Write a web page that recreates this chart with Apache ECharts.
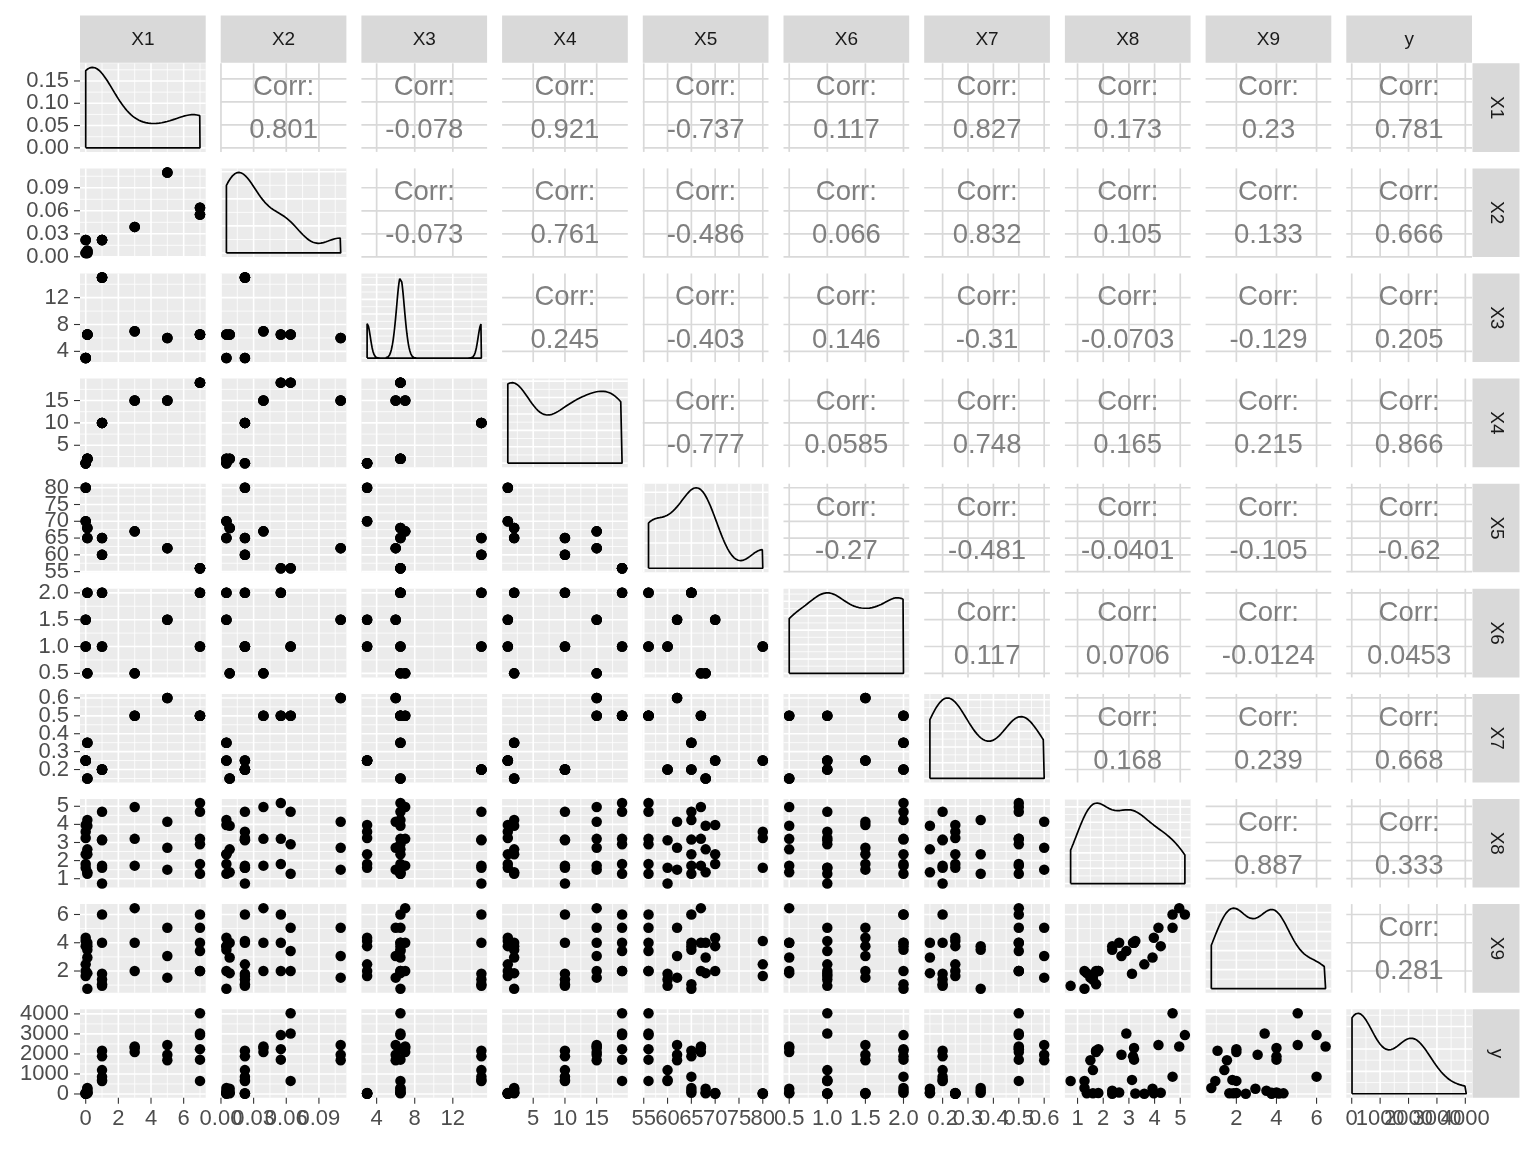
<!DOCTYPE html>
<html><head><meta charset="utf-8">
<script src="https://cdn.jsdelivr.net/npm/echarts@6/dist/echarts.min.js"></script>
<style>html,body{margin:0;padding:0;background:#fff}#c{width:1536px;height:1152px}</style>
</head><body><div id="c"></div>
<script>
// ---------------- data (30 observations) ----------------
const VARS = ['X1','X2','X3','X4','X5','X6','X7','X8','X9','y'];
const X1 = [0,0,0, 0,0,0, 0.1,0.1,0.1, 0.1,0.1,0.1, 1,1,1, 1,1,1, 3,3,3, 5,5,5, 7,7,7, 7,7,7];
const X2 = [0.022,0.022,0.022, 0.005,0.005,0.005, 0.008,0.008,0.008, 0.005,0.005,0.005, 0.022,0.022,0.022, 0.022,0.022,0.022, 0.039,0.039,0.039, 0.11,0.11,0.11, 0.055,0.055,0.055, 0.064,0.064,0.064];
const X3 = [3,3,3, 3,3,3, 6.5,6.5,6.5, 6.5,6.5,6.5, 15,15,15, 15,15,15, 7,7,7, 6,6,6, 6.5,6.5,6.5, 6.5,6.5,6.5];
const X4 = [1,1,1, 1,1,1, 2,2,2, 2,2,2, 10,10,10, 10,10,10, 15,15,15, 15,15,15, 19,19,19, 19,19,19];
const X5 = [80,80,80, 70,70,70, 68,68,68, 65,65,65, 65,65,65, 60,60,60, 67,67,67, 62,62,62, 56,56,56, 56,56,56];
const X6 = [1,1,1, 1.5,1.5,1.5, 0.5,0.5,0.5, 2,2,2, 2,2,2, 1,1,1, 0.5,0.5,0.5, 1.5,1.5,1.5, 2,2,2, 1,1,1];
const X7 = [0.25,0.25,0.25, 0.25,0.25,0.25, 0.15,0.15,0.15, 0.35,0.35,0.35, 0.2,0.2,0.2, 0.2,0.2,0.2, 0.5,0.5,0.5, 0.6,0.6,0.6, 0.5,0.5,0.5, 0.5,0.5,0.5];
const X8 = [3.25,3.6,1.6, 3.97,2.35,1.81, 3.92,2.62,1.36, 4.24,2.35,1.27, 4.7,3.16,1.72, 3.12,1.6,0.73, 4.96,3.2,1.72, 4.15,2.71,1.5, 5.18,3.2,1.81, 4.7,2.9,1.27];
const X9 = [4.12,2.47,1.65, 4.35,3.76,2.0, 2.95,4.0,1.85, 3.76,3.5,0.75, 6.0,4.0,1.06, 1.8,1.4,0.95, 6.45,4.0,2.0, 5.06,3.06,1.53, 6.0,4.0,2.0, 5.06,3.41,2.0];
const y  = [20,10,40, 30,15,49, 260,74,30, 60,163,300, 866,1879,2157, 703,1193,650, 2369,2300,2091, 2451,1961,1683, 2941,1716,2239, 4034,3023,654];

// axis break steps and label decimals per variable
const breakStep   = [2, 0.03, 4, 5, 5, 0.5, 0.1, 1, 2, 1000];
const labelDigits = [0, 2, 0, 0, 0, 1, 1, 0, 0, 0];

// correlation labels (upper triangle), row i lists columns i+1..9
const corrText = [
  ['0.801','-0.078','0.921','-0.737','0.117','0.827','0.173','0.23','0.781'],
  ['-0.073','0.761','-0.486','0.066','0.832','0.105','0.133','0.666'],
  ['0.245','-0.403','0.146','-0.31','-0.0703','-0.129','0.205'],
  ['-0.777','0.0585','0.748','0.165','0.215','0.866'],
  ['-0.27','-0.481','-0.0401','-0.105','-0.62'],
  ['0.117','0.0706','-0.0124','0.0453'],
  ['0.168','0.239','0.668'],
  ['0.887','0.333'],
  ['0.281']
];

// ---------------- layout ----------------
const L = 80, T = 63.3, PW = 125.7, PH = 88.6, DX = 140.7, DY = 105.1;
const FONT = '"Liberation Sans", Arial, sans-serif';
const cols = [X1,X2,X3,X4,X5,X6,X7,X8,X9,y];
const N = 10;

function lim(a){const mn=Math.min(...a),mx=Math.max(...a),r=mx-mn;return [mn-0.05*r,mx+0.05*r];}
function majors(lo,hi,step){const o=[];for(let k=Math.ceil(lo/step-1e-9);k*step<=hi+1e-9;k++)o.push(+(k*step).toFixed(10));return o;}
function minors(lo,hi,step){const o=[];for(let k=Math.floor(lo/step)-1;(k+0.5)*step<=hi;k++){const v=(k+0.5)*step;if(v>=lo&&v<=hi)o.push(+v.toFixed(10));}return o;}
function niceStep(r){const raw=r/4,mag=Math.pow(10,Math.floor(Math.log10(raw))),n=raw/mag;let s=n<1.5?1:n<2.25?2:n<3.5?2.5:n<7.5?5:10;return s*mag;}

// gaussian KDE (bw.nrd0, 512 points over data range) — same stat as the original
function quant(s,p){const h=(s.length-1)*p,lo=Math.floor(h),hi=Math.min(lo+1,s.length-1);return s[lo]+(h-lo)*(s[hi]-s[lo]);}
function kde(a){
  const n=a.length,s=[...a].sort((p,q)=>p-q),mean=a.reduce((p,q)=>p+q,0)/n;
  const sd=Math.sqrt(a.reduce((p,q)=>p+(q-mean)*(q-mean),0)/(n-1));
  let lo=Math.min(sd,(quant(s,0.75)-quant(s,0.25))/1.34); if(!(lo>0)) lo=sd||1;
  const bw=0.9*lo*Math.pow(n,-0.2), mn=s[0], mx=s[n-1], pts=[];
  for(let k=0;k<512;k++){const x=mn+(mx-mn)*k/511;let d=0;for(const v of a){const z=(x-v)/bw;d+=Math.exp(-0.5*z*z);}pts.push([x,d/(n*bw*Math.sqrt(2*Math.PI))]);}
  return pts;
}

const xl = cols.map(lim);
const dens = cols.map(kde);
const dl = dens.map(p=>{const m=Math.max(...p.map(q=>q[1]));return [-0.05*m,1.05*m];});
const dStep = dl.map(l=>niceStep(l[1]));

const grids=[], xAxes=[], yAxes=[], series=[], graphics=[];

function axisCfg(k,lo,hi){
  return {type:'value', gridIndex:k, min:lo, max:hi, scale:true, show:true,
    axisLine:{show:false}, axisTick:{show:false}, axisLabel:{show:false},
    splitLine:{show:false}, minorSplitLine:{show:false}};
}

const TICK = 6, GAP = 5, AXFONT = 22;

for(let i=0;i<N;i++){
  for(let j=0;j<N;j++){
    const k=i*N+j, upper=j>i, diag=i===j;
    grids.push({left:L+j*DX, top:T+i*DY, width:PW, height:PH, show:true,
      backgroundColor: upper?'#ffffff':'#ebebeb', borderWidth:0, containLabel:false});
    const xlo=xl[j][0], xhi=xl[j][1];
    const [ylo,yhi] = diag? dl[i] : xl[i];
    const yStep = diag? dStep[i] : breakStep[i];
    const yDig = diag? Math.max(0,-Math.floor(Math.log10(dStep[i])+1e-9)) : labelDigits[i];
    const xDig = labelDigits[j];
    xAxes.push(axisCfg(k,xlo,xhi));
    yAxes.push(axisCfg(k,ylo,yhi));

    const xMaj=majors(xlo,xhi,breakStep[j]), yMaj=majors(ylo,yhi,yStep);
    const xMin=minors(xlo,xhi,breakStep[j]), yMin=minors(ylo,yhi,yStep);
    const label = upper ? 'Corr:\n'+corrText[i][j-i-1] : null;
    const bottomAxis = i===N-1, leftAxis = j===0;
    series.push({type:'custom', xAxisIndex:k, yAxisIndex:k, silent:true, z:1, clip:false,
      data:[[xlo,ylo]],
      renderItem:(params,api)=>{
        const ch=[];
        const p0=api.coord([xlo,ylo]), p1=api.coord([xhi,yhi]);
        const line=(a,b,c,d,col,w)=>ch.push({type:'line',shape:{x1:a,y1:b,x2:c,y2:d},style:{stroke:col,lineWidth:w}});
        if(!upper){
          xMin.forEach(v=>{const p=api.coord([v,ylo])[0];line(p,p0[1],p,p1[1],'#ffffff',0.8);});
          yMin.forEach(v=>{const p=api.coord([xlo,v])[1];line(p0[0],p,p1[0],p,'#ffffff',0.8);});
          xMaj.forEach(v=>{const p=api.coord([v,ylo])[0];line(p,p0[1],p,p1[1],'#ffffff',1.6);});
          yMaj.forEach(v=>{const p=api.coord([xlo,v])[1];line(p0[0],p,p1[0],p,'#ffffff',1.6);});
        } else {
          xMaj.forEach(v=>{const p=api.coord([v,ylo])[0];line(p,p0[1],p,p1[1],'#d9d9d9',1.7);});
          yMaj.forEach(v=>{const p=api.coord([xlo,v])[1];line(p0[0],p,p1[0],p,'#d9d9d9',1.7);});
          const c=api.coord([(xlo+xhi)/2,(ylo+yhi)/2]);
          ch.push({type:'text',x:c[0],y:c[1]+1.5,style:{text:label,fill:'#7f7f7f',fontSize:27.5,fontFamily:FONT,
            align:'center',verticalAlign:'middle',lineHeight:43}});
        }
        // outer axes: ticks + labels at the breaks, placed through the axis scale
        if(bottomAxis){
          xMaj.forEach(v=>{const p=api.coord([v,ylo])[0];
            line(p,p0[1],p,p0[1]+TICK,'#333333',1.1);
            ch.push({type:'text',x:p,y:p0[1]+TICK+GAP-1,style:{text:v.toFixed(xDig),fill:'#4d4d4d',fontSize:AXFONT,fontFamily:FONT,align:'center',verticalAlign:'top'}});});
        }
        if(leftAxis){
          yMaj.forEach(v=>{const p=api.coord([xlo,v])[1];
            line(p0[0]-TICK,p,p0[0],p,'#333333',1.1);
            ch.push({type:'text',x:p0[0]-TICK-GAP,y:p,style:{text:v.toFixed(yDig),fill:'#4d4d4d',fontSize:AXFONT,fontFamily:FONT,align:'right',verticalAlign:'middle'}});});
        }
        return {type:'group',children:ch};
      }});

    if(!upper && !diag){
      const xs=cols[j], ys=cols[i];
      series.push({type:'scatter', xAxisIndex:k, yAxisIndex:k, silent:true, z:3,
        symbolSize:10.5, itemStyle:{color:'#000000',opacity:1},
        data: xs.map((v,o)=>[v, ys[o]])});
    }
    if(diag){
      const p=dens[i], mn=p[0][0], mx=p[p.length-1][0];
      const poly=[[mn,0]].concat(p,[[mx,0],[mn,0]]);
      series.push({type:'line', xAxisIndex:k, yAxisIndex:k, silent:true, z:3, showSymbol:false, symbol:'none',
        lineStyle:{color:'#000000',width:1.7}, data:poly, clip:false});
    }
  }
}

// strips
for(let j=0;j<N;j++){
  graphics.push({type:'rect', shape:{x:L+j*DX, y:15.5, width:PW, height:47.3}, style:{fill:'#d9d9d9'}});
  graphics.push({type:'text', x:L+j*DX+PW/2, y:39.5, style:{text:VARS[j], fill:'#1a1a1a', fontSize:19, fontFamily:FONT, align:'center', verticalAlign:'middle'}});
}
for(let i=0;i<N;i++){
  const xs=L+9*DX+PW+0.5;
  graphics.push({type:'rect', shape:{x:xs, y:T+i*DY, width:47, height:PH}, style:{fill:'#d9d9d9'}});
  graphics.push({type:'text', x:xs+23.5, y:T+i*DY+PH/2, rotation:-Math.PI/2, style:{text:VARS[i], fill:'#1a1a1a', fontSize:19, fontFamily:FONT, align:'center', verticalAlign:'middle'}});
}

const chart = echarts.init(document.getElementById('c'), null, {renderer:'canvas'});
chart.setOption({animation:false, backgroundColor:'#ffffff', grid:grids, xAxis:xAxes, yAxis:yAxes, series:series, graphic:graphics});
</script></body></html>
